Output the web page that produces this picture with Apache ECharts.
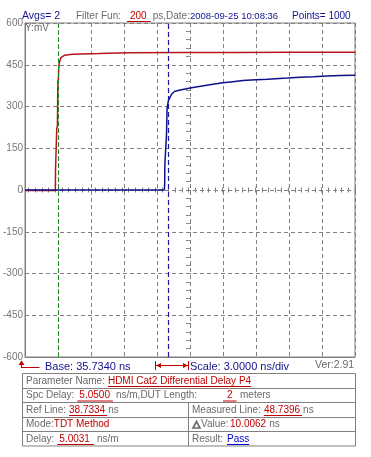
<!DOCTYPE html>
<html><head><meta charset="utf-8">
<script src="https://cdn.jsdelivr.net/npm/echarts@6/dist/echarts.min.js"></script>
<style>html,body{margin:0;padding:0;background:#fff}#c{width:371px;height:457px}</style>
</head><body><div id="c"></div>
<script>
// ---- data ----
const baseNs = 35.734;        // Base
const scaleNs = 3.0;          // ns/div
const divisions = 10;
const yMin = -600, yMax = 600, yStep = 150;
const refLineNs = 38.7334;
const measuredLineNs = 48.7396;

// Reference (red) trace, time in ns, value in mV
const refT = [35.734, 38.49, 38.51, 38.55, 38.60, 38.62, 38.66, 38.68, 38.72, 38.77, 38.80, 38.86, 39.00, 39.31, 40.06, 42.46, 42.61, 45.0, 50.0, 55.0, 60.0, 65.734];
const refV = [-2, -2, 75, 80, 82, 221, 225, 230, 390, 398, 440, 458, 476, 484, 488, 490, 494, 493, 494, 494, 495, 495];

// Measured (blue) trace
const measT = [35.734, 48.40, 48.43, 48.45, 48.55, 48.60, 48.65, 48.72, 48.77, 48.91, 49.07, 49.36, 49.97, 50.87, 52.67, 53.72, 54.63, 55.53, 56.73, 57.78, 59.58, 60.78, 61.95, 63.19, 64.38, 65.734];
const measV = [0, 0, 20, 96, 100, 200, 293, 300, 321, 333, 345, 355, 360, 367, 379, 385, 389, 393, 396, 398, 402, 405, 407, 410, 411, 412];

// ---- style ----
const GRAY = '#808080', TXT = '#6a6a6a', NAVY = '#12128e', RED = '#c00000';
const FONT = '"Liberation Sans", Arial, sans-serif';
const G = {left: 22, top: 23, width: 333, height: 334};

const toRel = (ts, vs) => ts.map((t, i) => [t - baseNs, vs[i]]);

const mctx = document.createElement('canvas').getContext('2d');
function fontStr(size, bold) { return (bold ? 'bold ' : '') + size + 'px ' + FONT; }
function measure(text, size, bold) { mctx.font = fontStr(size, bold); return mctx.measureText(text).width; }

const els = [];
function txt(x, y, text, fill, size, opt) {
  opt = opt || {};
  els.push({type: 'text', x: x, y: y, silent: true, z: 100,
    style: {text: text, fill: fill, font: fontStr(size, opt.bold),
      verticalAlign: 'middle', align: opt.align || 'left'}});
}
function line(x1, y1, x2, y2, stroke, w) {
  els.push({type: 'line', silent: true, z: 100, shape: {x1: x1, y1: y1, x2: x2, y2: y2},
    style: {stroke: stroke, lineWidth: w || 1}});
}
function tri(pts, fill) {
  els.push({type: 'polygon', silent: true, z: 100, shape: {points: pts}, style: {fill: fill}});
}
// flow layout: segments [{t, c, x (preferred), u (underline pad [l,r]), b, s (size)}]
function flow(y, size, segs) {
  let cur = -1e9;
  segs.forEach(s => {
    const sz = s.s || size;
    const pad = s.u || null;
    let x = Math.max(s.x != null ? s.x : cur, cur + (pad ? pad[0] : 0));
    const w = measure(s.t, sz, s.b);
    txt(x, y, s.t, s.c, sz, {bold: s.b});
    let end = x + w;
    if (pad) {
      line(x - pad[0], y + 5.5, end + pad[1], y + 5.5, s.c, 1);
      end += pad[1];
    }
    cur = end + (s.g != null ? s.g : 3);
  });
}

// top line
flow(16, 10, [
  {t: 'Avgs= 2', c: NAVY, x: 22, s: 10.5},
  {t: 'Filter Fun:', c: TXT, x: 76},
  {t: '200', c: RED, x: 130, u: [3, 4], g: 2},
  {t: 'ps,Date:', c: TXT, x: 149, g: 0},
  {t: '2008-09-25 10:08:36', c: NAVY, x: 187, s: 9.5},
  {t: 'Points= 1000', c: NAVY, x: 292}
]);
// inside plot
txt(25, 28, 'Y:mV', TXT, 10);

// bottom line
line(21.5, 362, 21.5, 367.5, RED, 1);
line(21, 367.5, 39.5, 367.5, RED, 1);
tri([[18.5, 365], [21.5, 360.5], [24.5, 365]], RED);
txt(45, 366.5, 'Base: 35.7340 ns', NAVY, 11);
line(155.5, 361, 155.5, 370, RED, 1);
line(188.5, 361, 188.5, 370, RED, 1);
line(156, 365.5, 188, 365.5, RED, 1);
tri([[156, 365.5], [161, 363], [161, 368]], RED);
tri([[188, 365.5], [183, 363], [183, 368]], RED);
txt(190, 366.5, 'Scale: 3.0000 ns/div', NAVY, 11);
txt(315, 365, 'Ver:2.91', TXT, 10.5);

// table
els.push({type: 'rect', silent: true, z: 100, shape: {x: 22.5, y: 373.5, width: 333, height: 72.5},
  style: {fill: 'none', stroke: GRAY, lineWidth: 1}});
[388.5, 402.5, 417.5, 431.5].forEach(y => line(22.5, y, 355.5, y, GRAY, 1));
line(188.5, 402.5, 188.5, 446, GRAY, 1);
const FS = 10;
flow(381, FS, [
  {t: 'Parameter Name:', c: TXT, x: 26},
  {t: 'HDMI Cat2 Differential Delay P4', c: RED, x: 104, u: [0, 0]}
]);
flow(395.5, FS, [
  {t: 'Spc Delay:', c: TXT, x: 26},
  {t: '5.0500', c: RED, x: 77, u: [2, 3]},
  {t: 'ns/m,DUT Length:', c: TXT, x: 110},
  {t: '2', c: RED, x: 227, u: [4, 4]},
  {t: 'meters', c: TXT, x: 240}
]);
flow(410, FS, [
  {t: 'Ref Line:', c: TXT, x: 26},
  {t: '38.7334', c: RED, x: 69, u: [0, 2], g: 1},
  {t: 'ns', c: TXT, x: 105}
]);
flow(410, FS, [
  {t: 'Measured Line:', c: TXT, x: 192},
  {t: '48.7396', c: RED, x: 263, u: [0, 2], g: 1},
  {t: 'ns', c: TXT, x: 300}
]);
flow(424.5, FS, [
  {t: 'Mode:', c: TXT, x: 26, g: 0},
  {t: 'TDT Method', c: RED, x: 52}
]);
els.push({type: 'polygon', silent: true, z: 100, shape: {points: [[193, 428], [196.5, 421.5], [200, 428]]},
  style: {fill: 'none', stroke: TXT, lineWidth: 1.6}});
flow(424.5, FS, [
  {t: 'Value:', c: TXT, x: 201, g: 0},
  {t: '10.0062', c: RED, x: 230},
  {t: 'ns', c: TXT, x: 265}
]);
flow(439, FS, [
  {t: 'Delay:', c: TXT, x: 26},
  {t: '5.0031', c: RED, x: 57, u: [2, 4]},
  {t: 'ns/m', c: TXT, x: 90}
]);
flow(439, FS, [
  {t: 'Result:', c: TXT, x: 192},
  {t: 'Pass', c: '#0000cc', x: 227, u: [0, 0]}
]);

const tickAxis = (pos, dim) => ({
  gridIndex: 1, type: 'value', position: pos,
  min: dim === 'x' ? -25 : -20, max: dim === 'x' ? 25 : 20, interval: 1,
  axisLine: {show: false, onZero: true},
  axisTick: {show: true, length: 2.5, lineStyle: {color: GRAY, width: 1}},
  axisLabel: {show: false}, splitLine: {show: false}
});

const chart = echarts.init(document.getElementById('c'), null, {renderer: 'canvas'});
chart.setOption({
  animation: false,
  backgroundColor: '#fff',
  grid: [
    Object.assign({show: true, borderColor: GRAY, borderWidth: 1, backgroundColor: '#fff'}, G),
    Object.assign({}, G)
  ],
  xAxis: [
    {gridIndex: 0, type: 'value', min: 0, max: scaleNs * divisions, interval: scaleNs,
      axisLine: {show: true, onZero: false, lineStyle: {color: GRAY}},
      axisTick: {show: false}, axisLabel: {show: false},
      splitLine: {show: true, lineStyle: {color: GRAY, type: [4, 3], width: 1}}},
    tickAxis('bottom', 'x'),
    tickAxis('top', 'x')
  ],
  yAxis: [
    {gridIndex: 0, type: 'value', min: yMin, max: yMax, interval: yStep,
      axisLine: {show: true, onZero: false, lineStyle: {color: GRAY}},
      axisTick: {show: false},
      axisLabel: {show: true, color: '#777', fontSize: 10, fontFamily: FONT, margin: 2},
      splitLine: {show: true, lineStyle: {color: GRAY, type: [4, 3], width: 1}}},
    tickAxis('left', 'y'),
    tickAxis('right', 'y')
  ],
  series: [
    {type: 'line', xAxisIndex: 0, yAxisIndex: 0, data: toRel(refT, refV), symbol: 'none',
      lineStyle: {color: '#b8141a', width: 1.5}, z: 3,
      markLine: {silent: true, symbol: 'none', label: {show: false},
        lineStyle: {color: '#168a16', type: [4, 3], width: 1},
        data: [{xAxis: refLineNs - baseNs}]}},
    {type: 'line', xAxisIndex: 0, yAxisIndex: 0, data: toRel(measT, measV), symbol: 'none',
      lineStyle: {color: '#10108c', width: 1.5}, z: 4,
      markLine: {silent: true, symbol: 'none', label: {show: false},
        lineStyle: {color: '#1a1aa8', type: [5, 3], width: 1.2},
        data: [{xAxis: measuredLineNs - baseNs}]}}
  ],
  graphic: els
});
</script>
</body></html>
